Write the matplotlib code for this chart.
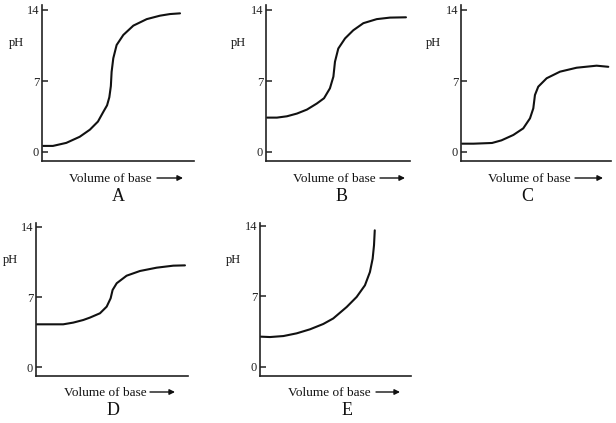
import matplotlib
matplotlib.use("Agg")
import matplotlib.pyplot as plt

# titration curves, volume in % of the x-axis length, pH
vol_a = [0.7, 7.2, 16.0, 24.8, 31.5, 36.8, 40.5, 42.8, 44.3, 45.3, 45.8, 46.9, 49.1, 53.5, 60.1, 68.9, 77.6, 84.2, 90.8]
ph_a = [0.6, 0.6, 0.9, 1.5, 2.2, 3.0, 4.0, 4.6, 5.4, 6.5, 7.9, 9.24, 10.55, 11.54, 12.46, 13.1, 13.44, 13.6, 13.67]

vol_b = [0.7, 7.6, 14.5, 21.5, 28.4, 35.3, 40.3, 44.4, 46.8, 47.9, 50.2, 54.9, 60.6, 67.6, 76.9, 86.1, 97.2]
ph_b = [3.39, 3.39, 3.52, 3.79, 4.18, 4.78, 5.3, 6.28, 7.43, 8.9, 10.2, 11.2, 12.0, 12.7, 13.1, 13.25, 13.28]

vol_c = [0.7, 8.4, 20.7, 27.0, 34.9, 41.5, 46.0, 48.2, 49.3, 51.5, 57.1, 66.0, 77.1, 90.4, 98.2]
ph_c = [0.82, 0.82, 0.89, 1.15, 1.68, 2.33, 3.32, 4.3, 5.62, 6.44, 7.27, 7.92, 8.31, 8.51, 8.4]

vol_d = [0.4, 9.2, 17.9, 24.5, 31.1, 35.5, 42.1, 46.5, 49.1, 50.4, 53.1, 59.6, 68.4, 79.4, 90.3, 98.0]
ph_d = [4.28, 4.28, 4.28, 4.45, 4.71, 4.95, 5.38, 6.04, 6.87, 7.7, 8.37, 9.12, 9.59, 9.92, 10.12, 10.15]

vol_e = [0.4, 6.6, 15.5, 24.3, 33.1, 41.9, 48.5, 57.4, 64.0, 69.5, 72.8, 74.6, 75.5, 76.0]
ph_e = [2.99, 2.95, 3.05, 3.32, 3.72, 4.25, 4.8, 5.94, 6.94, 8.1, 9.42, 10.75, 12.08, 13.57]

letters = ["A", "B", "C", "D", "E"]
ph_ticks = [0, 7, 14]

W, H = 616, 423
SERIF = "Liberation Serif"

# layout in pixels from top-left: axes box (left, right, top, bottom), y of pH 0 and pH 14
boxes = [(42, 194, 5, 161, 152, 10),
         (266, 410, 5, 161, 152, 10),
         (461, 611, 5, 161, 152, 10),
         (36, 188, 223, 376, 367.3, 226.7),
         (260, 411, 223, 376, 366.7, 226)]
# x of "Volume of base" text, arrow start/end, y of it; letter x,y; pH label x,y
labels = [(69, 157, 183, 179, 118, 196, 16, 43),
          (293, 380, 405, 179, 342, 196, 238, 43),
          (488, 575, 603, 179, 527, 196, 433, 43),
          (64, 150, 175, 393, 113, 410, 10, 260),
          (288, 376, 400, 393, 347, 410, 233, 260)]

curves = [(vol_a, ph_a), (vol_b, ph_b), (vol_c, ph_c), (vol_d, ph_d), (vol_e, ph_e)]

fig = plt.figure(figsize=(W / 100, H / 100), dpi=100)

for i in range(5):
    l, r, t, b, y0, y14 = boxes[i]
    ax = fig.add_axes([l / W, 1 - b / H, (r - l) / W, (b - t) / H])
    per = (y0 - y14) / 14.0
    ax.set_ylim(-(b - y0) / per, 14 + (y14 - t) / per)
    ax.set_xlim(0, 100)
    ax.plot(curves[i][0], curves[i][1], color="#111111", lw=1.5,
            solid_capstyle="round", solid_joinstyle="round")

    for s in ["top", "right"]:
        ax.spines[s].set_visible(False)
    for s in ["left", "bottom"]:
        ax.spines[s].set_linewidth(1.2)
        ax.spines[s].set_color("#222222")
    ax.set_xticks([])
    ax.set_yticks(ph_ticks)
    ax.tick_params(axis="y", direction="in", length=4.5, width=1.1, pad=2,
                   labelsize=9, colors="#222222")
    for lab in ax.get_yticklabels():
        lab.set_fontfamily(SERIF)
    ax.patch.set_alpha(0)

    tx, a0, a1, ty, lx, ly, px, py = labels[i]
    fig.text(tx / W, 1 - ty / H, "Volume of base", family=SERIF, fontsize=9.5,
             ha="left", va="center", color="#111111")
    ax.annotate("", xy=(a1, H - ty + 1), xytext=(a0, H - ty + 1),
                xycoords="figure pixels", textcoords="figure pixels",
                arrowprops=dict(arrowstyle="-|>", lw=1.0, color="#111111",
                                mutation_scale=8, shrinkA=0, shrinkB=0),
                annotation_clip=False)
    fig.text(lx / W, 1 - ly / H, letters[i], family=SERIF, fontsize=13,
             ha="center", va="center", color="#111111")
    fig.text(px / W, 1 - py / H, "pH", family=SERIF, fontsize=9,
             ha="center", va="center", color="#111111")

fig.savefig("out.png", dpi=100)
